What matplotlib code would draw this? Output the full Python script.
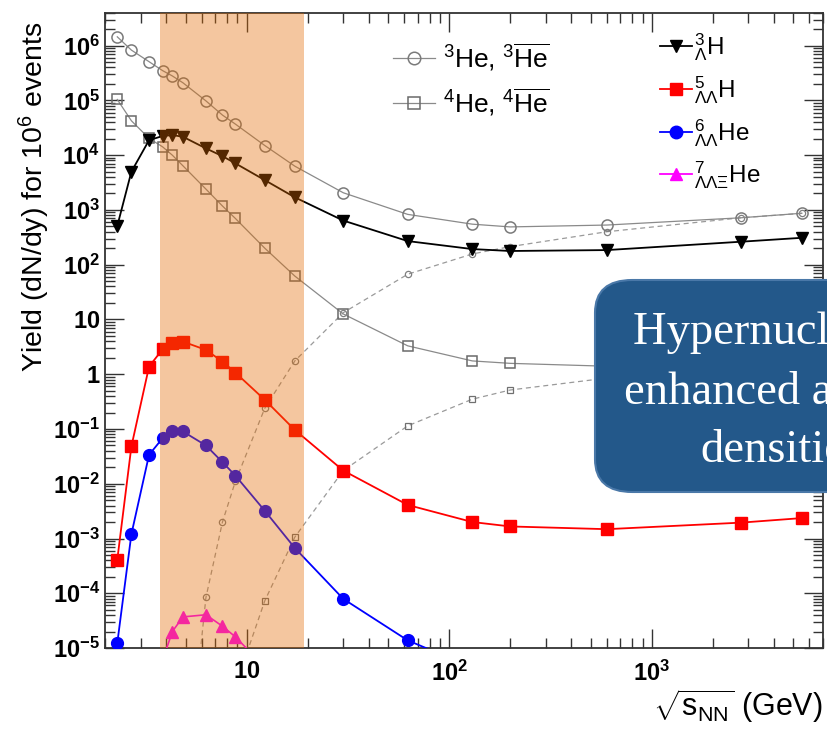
import math
import matplotlib
matplotlib.use('Agg')
import matplotlib.pyplot as plt
from matplotlib.patches import FancyBboxPatch
from matplotlib.lines import Line2D
from matplotlib.ticker import FixedLocator, FuncFormatter, LogLocator, NullFormatter

plt.rcParams['font.family'] = ['Liberation Sans', 'DejaVu Sans']
plt.rcParams['mathtext.fontset'] = 'custom'
plt.rcParams['mathtext.rm'] = 'Liberation Sans'
plt.rcParams['mathtext.it'] = 'Liberation Sans:italic'
plt.rcParams['mathtext.bf'] = 'Liberation Sans:bold'
plt.rcParams['mathtext.default'] = 'regular'

# collision energies (GeV)
energy = [2.3, 2.7, 3.3, 3.85, 4.3, 4.85, 6.3, 7.6, 8.8, 12.3, 17.3, 30,
          62.4, 130, 200, 600, 2760, 5500]

he3 = [1.45e6, 8.3e5, 5.1e5, 3.5e5, 2.8e5, 2.1e5, 9.8e4, 5.4e4, 3.7e4, 1.5e4,
       6.3e3, 2.06e3, 830, 550, 490, 530, 720, 870]
he4 = [1.04e5, 4.25e4, 2.03e4, 1.42e4, 1.0e4, 6.4e3, 2.4e3, 1.18e3, 700, 200,
       62, 12.6, 3.3, 1.75, 1.58, 1.4, 1.7, 2.0]
hyp_h3 = [510, 5.0e3, 1.88e4, 2.24e4, 2.33e4, 2.17e4, 1.33e4, 9.6e3, 7.1e3,
          3.5e3, 1.7e3, 640, 270, 193, 178, 185, 263, 310]
hyp_h5 = [4.1e-4, 4.8e-2, 1.38, 2.86, 3.78, 3.94, 2.78, 1.70, 1.07, 0.34,
          0.096, 1.74e-2, 4.1e-3, 2.0e-3, 1.66e-3, 1.48e-3, 1.95e-3, 2.36e-3]

energy_he6 = [2.3, 2.7, 3.3, 3.85, 4.3, 4.85, 6.3, 7.6, 8.8, 12.3, 17.3, 30, 62.4, 130]
hyp_he6 = [1.23e-5, 1.2e-3, 3.37e-2, 6.8e-2, 9.0e-2, 9.0e-2, 5.0e-2, 2.48e-2,
           1.41e-2, 3.2e-3, 6.7e-4, 7.9e-5, 1.38e-5, 4.4e-6]

energy_he7 = [3.85, 4.3, 4.85, 6.3, 7.6, 8.8, 12.3]
hyp_he7 = [6e-6, 2.0e-5, 3.7e-5, 4.05e-5, 2.5e-5, 1.6e-5, 4.5e-6]

energy_he3bar = [4.85, 6.3, 7.6, 8.8, 12.3, 17.3, 30, 62.4, 130, 200, 600, 2760, 5500]
he3bar = [8e-9, 8.4e-5, 2.0e-3, 1.1e-2, 0.24, 1.75, 13.3, 67, 157, 214, 400, 720, 867]

energy_he4bar = [8.8, 12.3, 17.3, 30, 62.4, 130, 200, 600, 2760, 5500]
he4bar = [2e-6, 7.3e-5, 1.06e-3, 1.74e-2, 0.114, 0.35, 0.515, 0.85, 1.5, 1.9]

band = [3.75, 19.3]

y_decades = [1e-5, 1e-4, 1e-3, 1e-2, 1e-1, 1, 10, 1e2, 1e3, 1e4, 1e5, 1e6]
x_decades = [10, 100, 1000]


def decade_label(v, pos):
    n = int(round(math.log10(v)))
    if n == 0:
        return r'$\mathbf{1}$'
    if n == 1:
        return r'$\mathbf{10}$'
    return r'$\mathbf{10}^{\mathbf{%d}}$' % n


fig = plt.figure(figsize=(8.28, 7.3), dpi=100)
ax = fig.add_axes([0.1268, 0.1123, 0.8672, 0.8703])
ax.set_xscale('log')
ax.set_yscale('log')
ax.set_xlim(2, 7000)
ax.set_ylim(1e-5, 4e6)

gray = '#8a8a8a'
ax.plot(energy_he3bar, he3bar, color='#9a9a9a', lw=0.9, ls=(0, (4, 3)),
        marker='o', ms=4.5, mfc='none', mec='#808080', mew=0.9, zorder=2)
ax.plot(energy_he4bar, he4bar, color='#9a9a9a', lw=0.9, ls=(0, (4, 3)),
        marker='s', ms=4.5, mfc='none', mec='#707070', mew=0.9, zorder=2)
ax.plot(energy, he3, color=gray, lw=0.9, marker='o', ms=8, mfc='none',
        mec='#7a7a7a', mew=1.1, zorder=3)
ax.plot(energy, he4, color=gray, lw=0.9, marker='s', ms=7.5, mfc='none',
        mec='#6a6a6a', mew=1.1, zorder=3)
ax.plot(energy, hyp_h3, color='black', lw=1.3, marker='v', ms=8.5, zorder=3)
ax.plot(energy, hyp_h5, color='red', lw=1.3, marker='s', ms=8.5, zorder=3)
ax.plot(energy_he6, hyp_he6, color='blue', lw=1.3, marker='o', ms=8.5, zorder=3)
ax.plot(energy_he7, hyp_he7, color='magenta', lw=1.2, marker='^', ms=8, zorder=3)

ax.axvspan(band[0], band[1], color=(0.886, 0.416, 0.0), alpha=0.376, lw=0, zorder=4)

ax.yaxis.set_major_locator(FixedLocator(y_decades))
ax.yaxis.set_major_formatter(FuncFormatter(decade_label))
ax.yaxis.set_minor_locator(LogLocator(base=10, subs=range(2, 10), numticks=60))
ax.yaxis.set_minor_formatter(NullFormatter())
ax.xaxis.set_major_locator(FixedLocator(x_decades))
ax.xaxis.set_major_formatter(FuncFormatter(decade_label))
ax.xaxis.set_minor_locator(LogLocator(base=10, subs=range(2, 10), numticks=60))
ax.xaxis.set_minor_formatter(NullFormatter())

ax.tick_params(which='both', direction='in', top=True, right=True,
               width=1.0, color='#333333')
ax.tick_params(which='major', length=14, labelsize=17, pad=3.5)
ax.tick_params(which='minor', length=7)
ax.tick_params(axis='x', which='major', pad=9)
for sp in ax.spines.values():
    sp.set_linewidth(1.3)
    sp.set_color('#333333')

ax.set_ylabel('Yield (dN/dy) for 10$^{6}$ events', fontsize=20.5)
ax.yaxis.set_label_coords(-0.074, 0.711)
ax.set_xlabel(r'$\sqrt{\mathrm{s}_{\mathrm{NN}}}$ (GeV)', fontsize=22, loc='right')
ax.xaxis.set_label_coords(1.0, -0.062)

# legends
he_handles = [
    Line2D([], [], color=gray, lw=0.9, marker='o', ms=9, mfc='none', mec='#7a7a7a', mew=1.1),
    Line2D([], [], color=gray, lw=0.9, marker='s', ms=8.5, mfc='none', mec='#6a6a6a', mew=1.1),
]
he_labels = [r'$^{3}$He, $^{3}\overline{\rm He}$', r'$^{4}$He, $^{4}\overline{\rm He}$']
leg1 = ax.legend(he_handles, he_labels, loc='upper left', bbox_to_anchor=(0.401, 0.955),
                 frameon=False, fontsize=19, handlelength=1.6, handletextpad=0.3,
                 labelspacing=0.5, borderpad=0, borderaxespad=0)
ax.add_artist(leg1)

hyp_handles = [
    Line2D([], [], color='black', lw=1.3, marker='v', ms=9),
    Line2D([], [], color='red', lw=1.3, marker='s', ms=9),
    Line2D([], [], color='blue', lw=1.3, marker='o', ms=9),
    Line2D([], [], color='magenta', lw=1.3, marker='^', ms=9),
]
hyp_labels = [r'$^{3}_{\Lambda}$H', r'$^{5}_{\Lambda\Lambda}$H',
              r'$^{6}_{\Lambda\Lambda}$He', r'$^{7}_{\Lambda\Lambda\Xi}$He']
ax.legend(hyp_handles, hyp_labels, loc='upper left', bbox_to_anchor=(0.773, 0.970),
          frameon=False, fontsize=17.5, handlelength=1.3, handletextpad=0.1,
          labelspacing=0.45, borderpad=0, borderaxespad=0)

# callout box
box = FancyBboxPatch((595 / 828, 1 - 492 / 730), (960 - 595) / 828, 212 / 730,
                     boxstyle='round,pad=0,rounding_size=0.045',
                     transform=fig.transFigure, facecolor='#23588a',
                     edgecolor='#4a78a8', lw=1.5, zorder=10)
fig.add_artist(box)
fig.text(782 / 828, 1 - 392 / 730, 'Hypernuclei are\nenhanced at high\ndensities',
         ha='center', va='center', color='white', fontsize=33.5,
         family='Liberation Serif', linespacing=1.5, zorder=11)

fig.savefig('out.png', dpi=100)
